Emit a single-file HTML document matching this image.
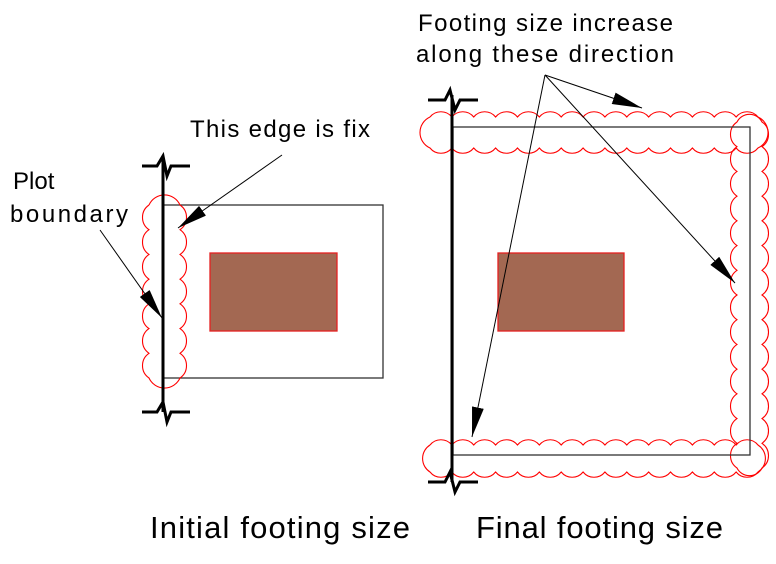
<!DOCTYPE html>
<html><head><meta charset="utf-8"><style>
html,body{margin:0;padding:0;background:#fff}
svg{display:block}
text{font-family:"Liberation Sans",sans-serif;fill:#000}
</style></head><body>
<svg id="s" width="776" height="564" viewBox="0 0 776 564" xmlns="http://www.w3.org/2000/svg">
<defs><marker id="a" markerWidth="30" markerHeight="12" refX="30" refY="6" orient="auto" markerUnits="userSpaceOnUse"><path d="M0,0 L30,6 L0,12 Z" fill="#000"/></marker></defs>
<rect x="163" y="205" width="220" height="173" fill="none" stroke="#333" stroke-width="1.3"/>
<rect x="210" y="253" width="127" height="78" fill="#a36852" stroke="#e52020" stroke-width="1.3"/>
<g id="clouds" fill="none" stroke="#f00" stroke-width="1.1"></g>
<line x1="163" y1="160" x2="163" y2="412" stroke="#000" stroke-width="3"/>
<path d="M142,166 H157 L163,156 L167,176 L171,166 H190" fill="none" stroke="#000" stroke-width="3"/>
<path d="M142,412 H157 L163,402 L167,422 L171,412 H190" fill="none" stroke="#000" stroke-width="3"/>
<line x1="282" y1="155" x2="178" y2="228" stroke="#000" stroke-width="1" marker-end="url(#a)"/>
<line x1="100" y1="230" x2="162" y2="318" stroke="#000" stroke-width="1" marker-end="url(#a)"/>
<rect x="453" y="127" width="297" height="328" fill="none" stroke="#333" stroke-width="1.3"/>
<rect x="498" y="253" width="126" height="78" fill="#a36852" stroke="#e52020" stroke-width="1.3"/>
<line x1="452" y1="95" x2="452" y2="482" stroke="#000" stroke-width="3"/>
<path d="M428,100 H445 L450,90 L455,110 L460,100 H478" fill="none" stroke="#000" stroke-width="3"/>
<path d="M428,482 H445 L450,472 L455,492 L460,482 H478" fill="none" stroke="#000" stroke-width="3"/>
<line x1="545" y1="75" x2="642" y2="108" stroke="#000" stroke-width="1" marker-end="url(#a)"/>
<line x1="545" y1="75" x2="735" y2="283" stroke="#000" stroke-width="1" marker-end="url(#a)"/>
<line x1="545" y1="75" x2="472" y2="437" stroke="#000" stroke-width="1" marker-end="url(#a)"/>
<text x="418" y="31" font-size="24" textLength="255">Footing size increase</text>
<text x="416" y="62" font-size="24" textLength="258">along these direction</text>
<text x="190" y="137" font-size="24" textLength="180">This edge is fix</text>
<text x="13" y="189" font-size="24">Plot</text>
<text x="10" y="222" font-size="24" textLength="118">boundary</text>
<text x="150" y="538" font-size="31" textLength="260">Initial footing size</text>
<text x="476" y="538" font-size="31" textLength="247">Final footing size</text>
</svg>
<script>
function cloud(x1,y1,x2,y2,nx,ny,r,re){
 var w=x2-x1,h=y2-y1,d="M"+x1+","+y1;
 var dx=w/nx,dy=h/ny;
 var rx=nx==1?re:r, ry=ny==1?re:r;
 for(var i=0;i<nx;i++)d+=" a"+rx+","+rx+" 0 0 1 "+dx+",0";
 for(i=0;i<ny;i++)d+=" a"+ry+","+ry+" 0 0 1 0,"+dy;
 for(i=0;i<nx;i++)d+=" a"+rx+","+rx+" 0 0 1 "+(-dx)+",0";
 for(i=0;i<ny;i++)d+=" a"+ry+","+ry+" 0 0 1 0,"+(-dy);
 return '<path d="'+d+'"/>';
}
var g=document.getElementById('clouds');
g.innerHTML=cloud(149,205,180,378,1,7,15,17)+cloud(430,117,758,148,15,1,14,17)+cloud(430,445,758,472,15,1,14,16)+cloud(737,122,762,468,1,14,15,14);
</script>
</body></html>
